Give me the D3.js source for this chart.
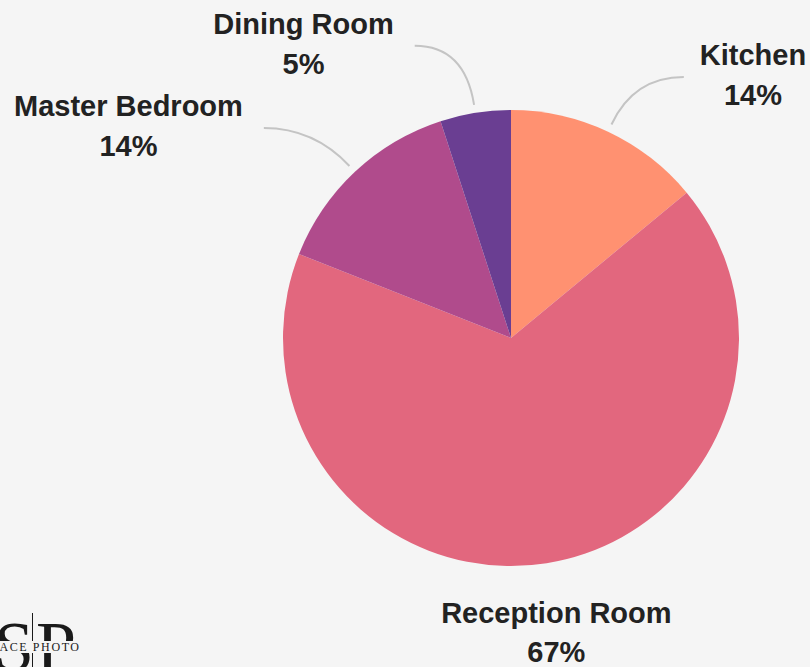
<!DOCTYPE html>
<html>
<head>
<meta charset="utf-8">
<script src="https://cdn.jsdelivr.net/npm/d3@7"></script>
<style>
  html, body { margin: 0; padding: 0; background: #f5f5f5; }
  svg { display: block; }
</style>
</head>
<body>
<div id="chart"></div>
<script>
var rooms = ["Kitchen", "Reception Room", "Master Bedroom", "Dining Room"];
var shares = [14, 67, 14, 5];
var colors = ["#ff9171", "#e2677e", "#b04b8c", "#6a3e92"];

var width = 810, height = 667;
var cx = 511, cy = 338, radius = 228;

var svg = d3.select("#chart")
    .append("svg")
    .attr("width", width)
    .attr("height", height);

svg.append("rect")
    .attr("width", width).attr("height", height)
    .attr("fill", "#f5f5f5");

var pie = d3.pie().sort(null).value(d => d);
var arcs = pie(shares);
var arc = d3.arc().innerRadius(0).outerRadius(radius);

var g = svg.append("g")
    .attr("transform", "translate(" + cx + "," + cy + ")");

g.selectAll("path")
    .data(arcs).enter().append("path")
    .attr("d", arc)
    .attr("fill", (d, i) => colors[i]);

// connectors + labels
var startR = radius + 8, tail = 50;

arcs.forEach(function (d, i) {
    var a = (d.startAngle + d.endAngle) / 2;
    var sx = Math.sin(a), sy = -Math.cos(a);
    // labels near the top get pushed a bit further out
    var elbowR = radius + 60 + 9 * Math.max(0, -sy - 0.9) / 0.1;
    var p0 = [sx * startR, sy * startR];
    var p1 = [sx * elbowR, sy * elbowR];
    var lab = svg.append("g").attr("font-family", "'Liberation Sans', Arial, sans-serif")
        .attr("font-weight", "bold").attr("font-size", 29).attr("fill", "#222");

    if (sy > 0.95) {
        // bottom slice: label sits right under the pie, no connector
        lab.append("text").attr("text-anchor", "middle")
            .attr("x", cx + sx * 290).attr("y", cy + 285).text(rooms[i]);
        lab.append("text").attr("text-anchor", "middle")
            .attr("x", cx + sx * 290).attr("y", cy + 324).text(shares[i] + "%");
        return;
    }

    var dir = sx >= 0 ? 1 : -1;
    var end = [p1[0] + dir * tail, p1[1]];
    var t = (p0[1] - p1[1]) / -sy;
    var ctrl = [p0[0] + sx * t, p1[1]];
    var path = d3.path();
    path.moveTo(p0[0], p0[1]);
    path.quadraticCurveTo(ctrl[0], ctrl[1], end[0], end[1]);
    g.append("path")
        .attr("d", path.toString())
        .attr("fill", "none")
        .attr("stroke", "#c4c4c4")
        .attr("stroke-width", 2);

    var t1 = lab.append("text").attr("text-anchor", "middle").text(rooms[i]);
    var t2 = lab.append("text").attr("text-anchor", "middle").text(shares[i] + "%");
    var w = Math.max(t1.node().getComputedTextLength(), t2.node().getComputedTextLength());
    var lx = cx + end[0] + dir * ((dir > 0 ? 16 : 21) + w / 2);
    t1.attr("x", lx).attr("y", cy + end[1] - 12);
    t2.attr("x", lx).attr("y", cy + end[1] + 28);
});

// watermark logo, bottom left
var logo = svg.append("g").attr("font-family", "'Liberation Serif', 'DejaVu Serif', serif").attr("fill", "#1a1a1a");
logo.append("text").attr("x", -6).attr("y", 671).attr("font-size", 72).text("S");
logo.append("text").attr("x", 36).attr("y", 671).attr("font-size", 72).text("P");
logo.append("line").attr("x1", 32.5).attr("x2", 32.5).attr("y1", 613).attr("y2", 667)
    .attr("stroke", "#1a1a1a").attr("stroke-width", 1);
logo.append("rect").attr("x", 0).attr("y", 641).attr("width", 84).attr("height", 12).attr("fill", "#f5f5f5");
logo.append("text").attr("x", -16).attr("y", 651).attr("font-size", 12).attr("letter-spacing", 1.6)
    .text("SPACE PHOTO");
</script>
</body>
</html>
